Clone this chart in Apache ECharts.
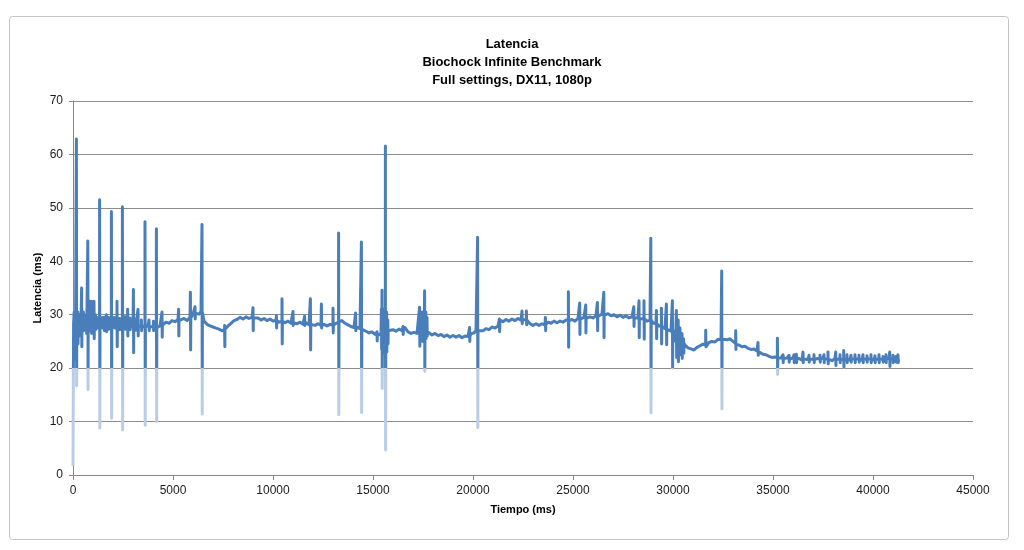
<!DOCTYPE html>
<html>
<head>
<meta charset="utf-8">
<script src="https://cdn.jsdelivr.net/npm/echarts@6/dist/echarts.min.js"></script>
<style>
html,body{margin:0;padding:0;background:#fff;}
#chart{width:1024px;height:550px;}
</style>
</head>
<body>
<div id="chart"></div>
<script>
// Titles
var titleLines = ['Latencia', 'Biochock Infinite Benchmark', 'Full settings, DX11, 1080p'];
var xAxisName = 'Tiempo (ms)';
var yAxisName = 'Latencia (ms)';

// Running latency trace: time (ms) and latency (ms)
var baseTiempo = [0,30,150,300,450,600,750,900,1050,1200,1350,1500,1650,1800,1950,2100,2250,2400,2550,2700,2850,3000,3150,3300,3450,3600,3750,3900,4050,4200,4350,4500,4650,4800,4950,5100,5250,5400,5550,5700,5850,6000,6150,6300,6400,6550,6700,6850,7000,7150,7300,7450,7600,7750,7900,8050,8200,8350,8500,8650,8800,8950,9100,9250,9400,9550,9700,9850,10000,10150,10300,10450,10600,10750,10900,11050,11200,11350,11500,11650,11800,11950,12100,12250,12400,12550,12700,12850,13000,13150,13300,13450,13600,13750,13900,14050,14200,14350,14500,14650,14800,14950,15100,15250,15400,15500,15700,15850,16000,16150,16300,16450,16600,16750,16900,17050,17200,17300,17800,17950,18100,18250,18400,18550,18700,18850,19000,19150,19300,19450,19600,19750,19900,20050,20150,20350,20500,20650,20800,20950,21100,21250,21350,21500,21650,21800,21950,22100,22250,22400,22550,22700,22850,23000,23150,23300,23450,23600,23750,23900,24050,24200,24350,24500,24650,24800,24950,25100,25250,25400,25550,25700,25850,26000,26150,26300,26450,26600,26750,26900,27050,27200,27350,27500,27650,27800,27950,28100,28250,28400,28550,28700,28850,29000,29150,29300,29450,29600,29750,29900,30050,30600,30750,30900,31050,31200,31350,31500,31650,31800,31950,32100,32250,32400,32550,32700,32850,33000,33150,33300,33450,33600,33750,33900,34050,34200,34350,34500,34650,34800,34950,35100,35250,35400,35550,35700,35850,36000,36150,36300,36450,36600,36750,36900,37050,37200,37350,37500,37650,37800,37950,38100,38250,38400,38550,38700,38850,39000,39150,39300,39450,39600,39750,39900,40050,40200,40350,40500,40650,40800,40950,41100,41250,41335];
var baseLatencia = [1.7,28.5,28.8,28.3,28.9,28.4,28.7,28.2,28.8,28.3,28.6,28.2,28.5,28.1,28.5,28.0,28.4,28.0,28.3,27.9,28.2,27.8,28.1,27.7,28.0,27.6,27.9,27.5,27.8,27.5,27.9,28.1,28.6,28.4,28.9,28.7,29.1,28.8,29.3,28.9,29.5,30.1,30.5,30.1,30.6,28.8,28.2,27.9,27.7,27.5,27.3,27.0,27.3,27.9,28.4,28.9,29.1,29.5,29.2,29.6,29.3,29.5,29.1,29.4,29.0,29.3,28.9,29.2,28.8,29.0,28.6,28.8,28.5,28.8,28.4,28.6,28.3,28.6,28.2,28.5,28.1,28.4,28.0,28.3,28.0,28.2,27.9,28.2,28.0,28.4,28.7,28.9,28.4,28.1,27.8,27.6,27.9,27.4,27.2,26.9,26.6,26.8,26.3,26.5,26.2,26.8,27.2,26.9,27.2,26.9,27.3,27.0,27.6,26.8,26.5,26.7,26.5,26.8,26.5,26.2,26.5,26.1,26.3,25.9,26.2,25.8,26.1,25.8,26.1,25.7,26.0,25.9,26.4,26.6,27.0,27.2,27.0,27.4,27.2,27.7,27.5,27.9,29.0,28.7,29.1,28.8,29.2,28.9,29.3,29.0,29.2,28.8,28.3,28.0,28.3,28.0,28.3,28.1,28.6,28.4,28.8,28.5,28.8,28.6,29.0,28.8,29.1,28.8,29.3,29.1,29.5,29.2,29.6,29.4,29.8,29.6,30.1,29.8,30.2,29.8,30.0,29.6,29.9,29.5,29.8,29.4,29.6,29.2,29.4,29.0,29.2,28.8,29.0,28.5,28.3,27.9,27.7,27.4,27.2,26.9,26.5,24.3,23.8,23.6,23.4,23.9,24.2,24.5,24.3,24.8,25.0,24.9,25.4,25.3,25.6,25.3,25.5,25.0,24.5,24.3,24.0,24.1,23.7,23.5,23.6,23.2,23.0,22.6,22.5,22.2,22.0,22.1,21.8,21.9,21.6,21.9,21.6,21.9,21.6,21.8,21.5,21.9,21.6,21.8,21.5,21.8,21.5,21.9,21.6,21.8,21.4,21.8,21.5,21.9,21.5,21.8,21.5,21.9,21.6,21.8,21.5,21.9,21.6,21.8,21.5,21.9,21.6,21.8,21.5,21.8,21.6,21.9,21.5,21.7];

// Spikes: time (ms), latency just before, peak latency, following low latency
var spikeTiempo = [60,110,170,240,320,380,430,520,600,670,740,830,920,990,1050,1120,1200,1330,1460,1560,1670,1780,1920,2070,2200,2330,2470,2600,2730,2850,3020,3130,3250,3420,3600,3800,4020,4170,4450,5280,5870,6100,6450,7580,9000,10170,10450,11000,11580,11870,12420,13000,13280,14130,14420,15200,15420,15450,15540,15600,15620,15680,15740,16500,17330,17400,17470,17540,17580,17640,17700,19830,20230,21320,22450,22670,23620,24770,25335,25635,26220,26540,28040,28300,28550,28890,29170,29420,29670,29970,30120,30170,30260,30350,30450,30530,31635,32435,33135,34250,35220,35500,35800,36050,36170,36500,36800,37050,37350,37550,37750,38135,38350,38535,38700,38900,39100,39300,39500,39700,39900,40100,40300,40500,40650,40835,41000,41150,41250];
var spikeBase = [28.5,28.6,28.7,28.5,28.5,28.6,28.7,28.5,28.4,28.5,28.6,28.4,28.3,28.6,28.7,28.5,28.3,28.6,28.4,28.3,28.4,28.2,28.4,28.3,28.2,28.1,28.2,28.2,28.0,28.1,27.9,28.0,27.8,27.9,27.7,27.8,27.7,27.6,28.0,28.9,29.4,30.3,30.4,27.2,29.4,28.9,28.8,28.5,28.3,28.2,28.0,28.0,28.6,27.7,27.3,26.4,26.3,27.0,27.0,27.0,27.0,27.0,27.0,27.1,26.8,27.0,27.0,27.0,27.0,27.0,26.8,26.0,27.0,27.9,29.1,29.0,28.2,28.9,29.2,29.3,29.7,29.9,29.4,29.3,29.2,29.0,28.3,27.8,27.3,26.7,26.2,26.0,25.8,25.5,25.0,24.7,24.3,25.4,24.6,23.1,21.9,21.8,21.7,21.8,21.7,21.7,21.7,21.6,21.7,21.7,21.7,21.7,21.6,21.6,21.7,21.7,21.7,21.7,21.6,21.7,21.7,21.7,21.6,21.7,21.7,21.7,21.7,21.7,21.6];
var spikeAlto = [30.5,29.8,62.9,30.5,30.0,29.5,35.0,30.5,29.5,30.0,43.8,32.5,32.5,31.0,32.5,30.0,29.5,51.5,29.5,29.5,30.0,29.5,49.3,29.5,32.5,29.3,50.2,29.6,31.0,29.4,34.7,29.2,31.0,29.0,47.4,29.0,28.8,46.1,30.5,31.0,34.2,31.5,46.9,28.0,31.3,29.8,33.0,30.6,29.7,33.0,32.0,31.2,45.3,30.3,43.6,26.8,31.0,34.6,31.0,30.5,61.6,30.5,29.0,27.8,31.4,29.5,30.5,29.5,34.5,30.5,29.5,27.6,44.5,29.2,30.7,30.7,29.5,34.3,32.2,31.8,32.3,34.2,31.5,32.6,32.6,44.3,30.8,31.2,32.0,32.6,27.0,30.8,29.0,27.5,26.5,25.5,27.1,38.2,27.0,24.8,25.6,22.5,22.4,22.5,22.6,23.0,22.4,22.5,22.4,22.5,23.0,23.0,22.5,23.3,22.5,22.4,22.5,22.4,22.5,22.3,22.5,22.3,22.5,22.2,22.5,23.0,22.4,22.2,22.5];
var spikeBajo = [21.5,24.0,16.7,24.5,26.0,27.0,24.0,27.0,27.5,26.5,16.0,27.0,26.5,27.0,25.5,27.2,27.5,8.8,27.5,27.0,26.8,27.3,10.6,27.5,24.0,27.2,8.4,27.3,26.0,27.2,22.9,27.1,26.0,27.0,9.3,27.0,27.0,10.0,25.8,26.0,23.4,29.2,11.4,24.0,27.0,27.5,24.5,28.0,28.0,23.4,27.5,26.6,11.3,27.0,11.7,25.1,23.5,16.2,23.0,22.5,4.7,23.0,24.5,26.3,24.1,25.5,25.0,25.5,19.4,25.5,26.0,25.0,8.9,26.8,28.3,28.1,27.0,23.9,26.3,26.6,27.0,25.7,27.8,25.7,25.4,11.6,25.5,24.5,24.4,20.0,25.0,22.0,21.2,22.5,21.8,22.8,24.0,12.4,23.5,22.4,18.8,21.0,21.1,21.0,21.0,21.0,21.1,21.0,21.1,21.0,20.8,20.5,21.0,20.2,21.0,21.1,21.0,21.1,21.0,21.1,21.0,21.0,21.0,21.1,21.0,20.3,21.0,21.1,21.0];

// Axis ticks
var xTicks = {min: 0, max: 45000, interval: 5000};
var yTicks = {min: 0, max: 70, interval: 10};

// Build the series: trace points plus each spike (before, peak, low, back)
var pts = [];
for (var i = 0; i < baseTiempo.length && i < baseLatencia.length; i++) {
  pts.push({t: baseTiempo[i], v: baseLatencia[i], o: 0});
}
for (var j = 0; j < spikeTiempo.length; j++) {
  var t = spikeTiempo[j];
  pts.push({t: t - 3, v: spikeBase[j], o: 0});
  pts.push({t: t, v: spikeAlto[j], o: 1});
  pts.push({t: t + 12, v: spikeBajo[j], o: 2});
  pts.push({t: t + 20, v: spikeBase[j], o: 3});
}
pts.sort(function (a, b) { return a.t - b.t || a.o - b.o; });
var seriesData = pts.map(function (p) { return [p.t, p.v]; });

var chart = echarts.init(document.getElementById('chart'), null, {renderer: 'canvas'});
var labelFont = 'Liberation Sans';
var dark = '#4a7ebb', pale = '#b9cde5';
chart.setOption({
  animation: false,
  backgroundColor: '#ffffff',
  graphic: [{
    type: 'rect',
    shape: {x: 9.5, y: 16.5, width: 999, height: 523, r: 3},
    style: {fill: 'none', stroke: '#c4c4c4', lineWidth: 1},
    silent: true,
    z: -10
  }],
  title: {
    text: titleLines.join('\n'),
    left: 'center',
    top: 30,
    textStyle: {fontFamily: labelFont, fontSize: 13, fontWeight: 'bold', color: '#000', lineHeight: 18}
  },
  grid: {left: 73, right: 51, top: 101, bottom: 75},
  xAxis: {
    type: 'value',
    min: xTicks.min, max: xTicks.max, interval: xTicks.interval,
    name: xAxisName,
    nameLocation: 'middle',
    nameGap: 29,
    nameMoveOverlap: false,
    nameTextStyle: {fontFamily: labelFont, fontSize: 11, fontWeight: 'bold', color: '#000'},
    axisLine: {show: true, lineStyle: {color: '#868686', width: 1}},
    axisTick: {show: true, length: 5, lineStyle: {color: '#868686'}},
    axisLabel: {fontFamily: labelFont, fontSize: 12, color: '#1a1a1a', margin: 10,
      formatter: function (v) { return String(v); }},
    splitLine: {show: false}
  },
  yAxis: {
    type: 'value',
    min: yTicks.min, max: yTicks.max, interval: yTicks.interval,
    name: yAxisName,
    nameLocation: 'middle',
    nameGap: 30,
    nameRotate: 90,
    nameMoveOverlap: false,
    nameTextStyle: {fontFamily: labelFont, fontSize: 11, fontWeight: 'bold', color: '#000'},
    axisLine: {show: true, lineStyle: {color: '#868686', width: 1}},
    axisTick: {show: true, length: 4, lineStyle: {color: '#868686'}},
    axisLabel: {fontFamily: labelFont, fontSize: 12, color: '#1a1a1a', margin: 10},
    splitLine: {show: true, lineStyle: {color: '#8c8c8c', width: 1}}
  },
  series: [{
    type: 'line',
    data: seriesData,
    showSymbol: false,
    symbol: 'none',
    lineStyle: {width: 3, color: dark, join: 'round'},
    z: 3
  }]
});

// Pale colour for the parts of the trace below 20 ms, placed through the y axis scale
var yTop = chart.convertToPixel({yAxisIndex: 0}, yTicks.max);
var yBottom = chart.convertToPixel({yAxisIndex: 0}, yTicks.min);
var y20 = chart.convertToPixel({yAxisIndex: 0}, 20);
if (isFinite(yTop) && isFinite(yBottom) && isFinite(y20)) {
  var s = (y20 - yTop) / (yBottom - yTop);
  chart.setOption({
    series: [{
      lineStyle: {
        color: new echarts.graphic.LinearGradient(0, yTop, 0, yBottom, [
          {offset: 0, color: dark},
          {offset: s, color: dark},
          {offset: s, color: pale},
          {offset: 1, color: pale}
        ], true)
      }
    }]
  });
}
</script>
</body>
</html>
